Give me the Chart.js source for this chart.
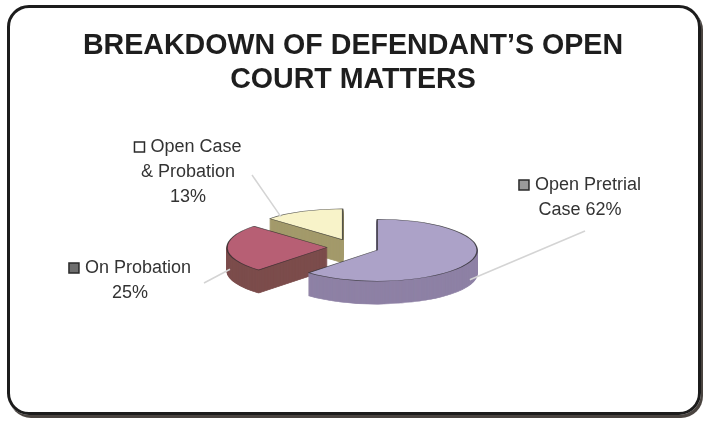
<!DOCTYPE html>
<html>
<head>
<meta charset="utf-8">
<script src="https://cdn.jsdelivr.net/npm/chart.js@4.4.1/dist/chart.umd.min.js"></script>
<style>
  html, body { margin: 0; padding: 0; background: #fff; }
  #wrap { position: relative; width: 704px; height: 423px; overflow: hidden; }
  #frame {
    position: absolute; left: 7px; top: 5px; width: 688px; height: 404px;
    border: 3px solid #1c1c1c; border-radius: 22px;
    box-shadow: 2px 3px 0 #4a4440;
  }
  canvas { position: absolute; left: 0; top: 0; }
</style>
</head>
<body>
<div id="wrap">
  <div id="frame"></div>
  <canvas id="chart" width="704" height="423"></canvas>
</div>
<script>
// values
const categories = ['Open Pretrial Case', 'On Probation', 'Open Case & Probation'];
const percents = [62, 25, 13];
const labelLines = [
  ['Open Pretrial', 'Case 62%'],
  ['On Probation', '25%'],
  ['Open Case', '& Probation', '13%'],
];
const titleLines = ['BREAKDOWN OF DEFENDANT\u2019S OPEN', 'COURT MATTERS'];

const topColors = ['#aca2c8', '#b75f74', '#f8f3c9'];
const sideColors = ['#8e81a5', '#7c4d4c', '#a39a6b'];
const keyColors = ['#9a9a9a', '#6e6e6e', '#ffffff'];

// fake 3D: squash the pie vertically and stack its slices
const SQUASH = 0.31;
const DEPTH = 23;
const EXPLODE = 26;
const drawOrder = [2, 1, 0];

// label placement (block centre, leader start, anchor angle on the rim)
const labelSpots = [
  { x: 580, y: 185, from: [585, 231], angle: 0.3, drop: 0.9 },
  { x: 130, y: 268, from: [204, 283], angle: Math.PI, drop: 0.95 },
  { x: 188, y: 147, from: [252, 175], angle: Math.PI * 1.28, drop: 0 },
];

function slicePoint(arc, angle, drop) {
  const mid = (arc.startAngle + arc.endAngle) / 2;
  const r = arc.outerRadius * 0.97;
  const x = arc.x + Math.cos(angle) * r + Math.cos(mid) * EXPLODE;
  const y = arc.y + (Math.sin(angle) * r + Math.sin(mid) * EXPLODE) * SQUASH + DEPTH * drop;
  return [x, y];
}

const pie3d = {
  id: 'pie3d',
  beforeDatasetDraw(chart, args) {
    const ctx = chart.ctx;
    const arcs = args.meta.data;
    const cx = arcs[0].x, cy = arcs[0].y;
    ctx.save();
    ctx.translate(cx, cy);
    ctx.scale(1, SQUASH);
    ctx.translate(-cx, -cy);
    drawOrder.forEach(i => {
      const arc = arcs[i];
      const mid = (arc.startAngle + arc.endAngle) / 2;
      ctx.save();
      ctx.translate(Math.cos(mid) * EXPLODE, Math.sin(mid) * EXPLODE);
      const topOpts = arc.options;
      arc.options = Object.assign({}, topOpts, {
        backgroundColor: sideColors[i],
        borderColor: sideColors[i],
      });
      for (let s = DEPTH; s > 0; s--) {
        ctx.save();
        ctx.translate(0, s / SQUASH);
        arc.draw(ctx);
        ctx.restore();
      }
      arc.options = topOpts;
      arc.draw(ctx);
      ctx.restore();
    });
    ctx.restore();
    return false;
  },
  afterDraw(chart) {
    const ctx = chart.ctx;
    const arcs = chart.getDatasetMeta(0).data;
    ctx.save();
    ctx.font = '18px "Liberation Sans", Arial, sans-serif';
    ctx.textBaseline = 'middle';
    ctx.textAlign = 'left';
    labelSpots.forEach((spot, i) => {
      // leader line
      const end = slicePoint(arcs[i], spot.angle, spot.drop);
      ctx.strokeStyle = '#d4d4d4';
      ctx.lineWidth = 1.5;
      ctx.beginPath();
      ctx.moveTo(spot.from[0], spot.from[1]);
      ctx.lineTo(end[0], end[1]);
      ctx.stroke();

      labelLines[i].forEach((line, j) => {
        const y = spot.y + j * 25;
        const tw = ctx.measureText(line).width;
        const key = j === 0 ? 16 : 0;
        let x = spot.x - (tw + key) / 2;
        if (key) {
          ctx.fillStyle = keyColors[i];
          ctx.fillRect(x, y - 5, 10, 10);
          ctx.strokeStyle = '#2a2a2a';
          ctx.lineWidth = 1.5;
          ctx.strokeRect(x, y - 5, 10, 10);
          x += key;
        }
        ctx.fillStyle = '#333';
        ctx.fillText(line, x, y);
      });
    });
    ctx.restore();
  },
};

new Chart(document.getElementById('chart'), {
  type: 'pie',
  data: {
    labels: categories,
    datasets: [{
      data: percents,
      backgroundColor: topColors,
      borderColor: 'rgba(40, 40, 40, 0.75)',
      borderWidth: 1.5,
      radius: 100,
    }],
  },
  options: {
    responsive: false,
    animation: false,
    layout: { padding: { top: 0, bottom: 35, left: 2, right: 0 } },
    plugins: {
      legend: { display: false },
      tooltip: { enabled: false },
      title: {
        display: true,
        text: titleLines,
        color: '#1e1e1e',
        font: { family: '"Liberation Sans", Arial, sans-serif', size: 28.6, weight: 'bold', lineHeight: 1.16 },
        padding: { top: 30, bottom: 10 },
      },
    },
  },
  plugins: [pie3d],
});
</script>
</body>
</html>
